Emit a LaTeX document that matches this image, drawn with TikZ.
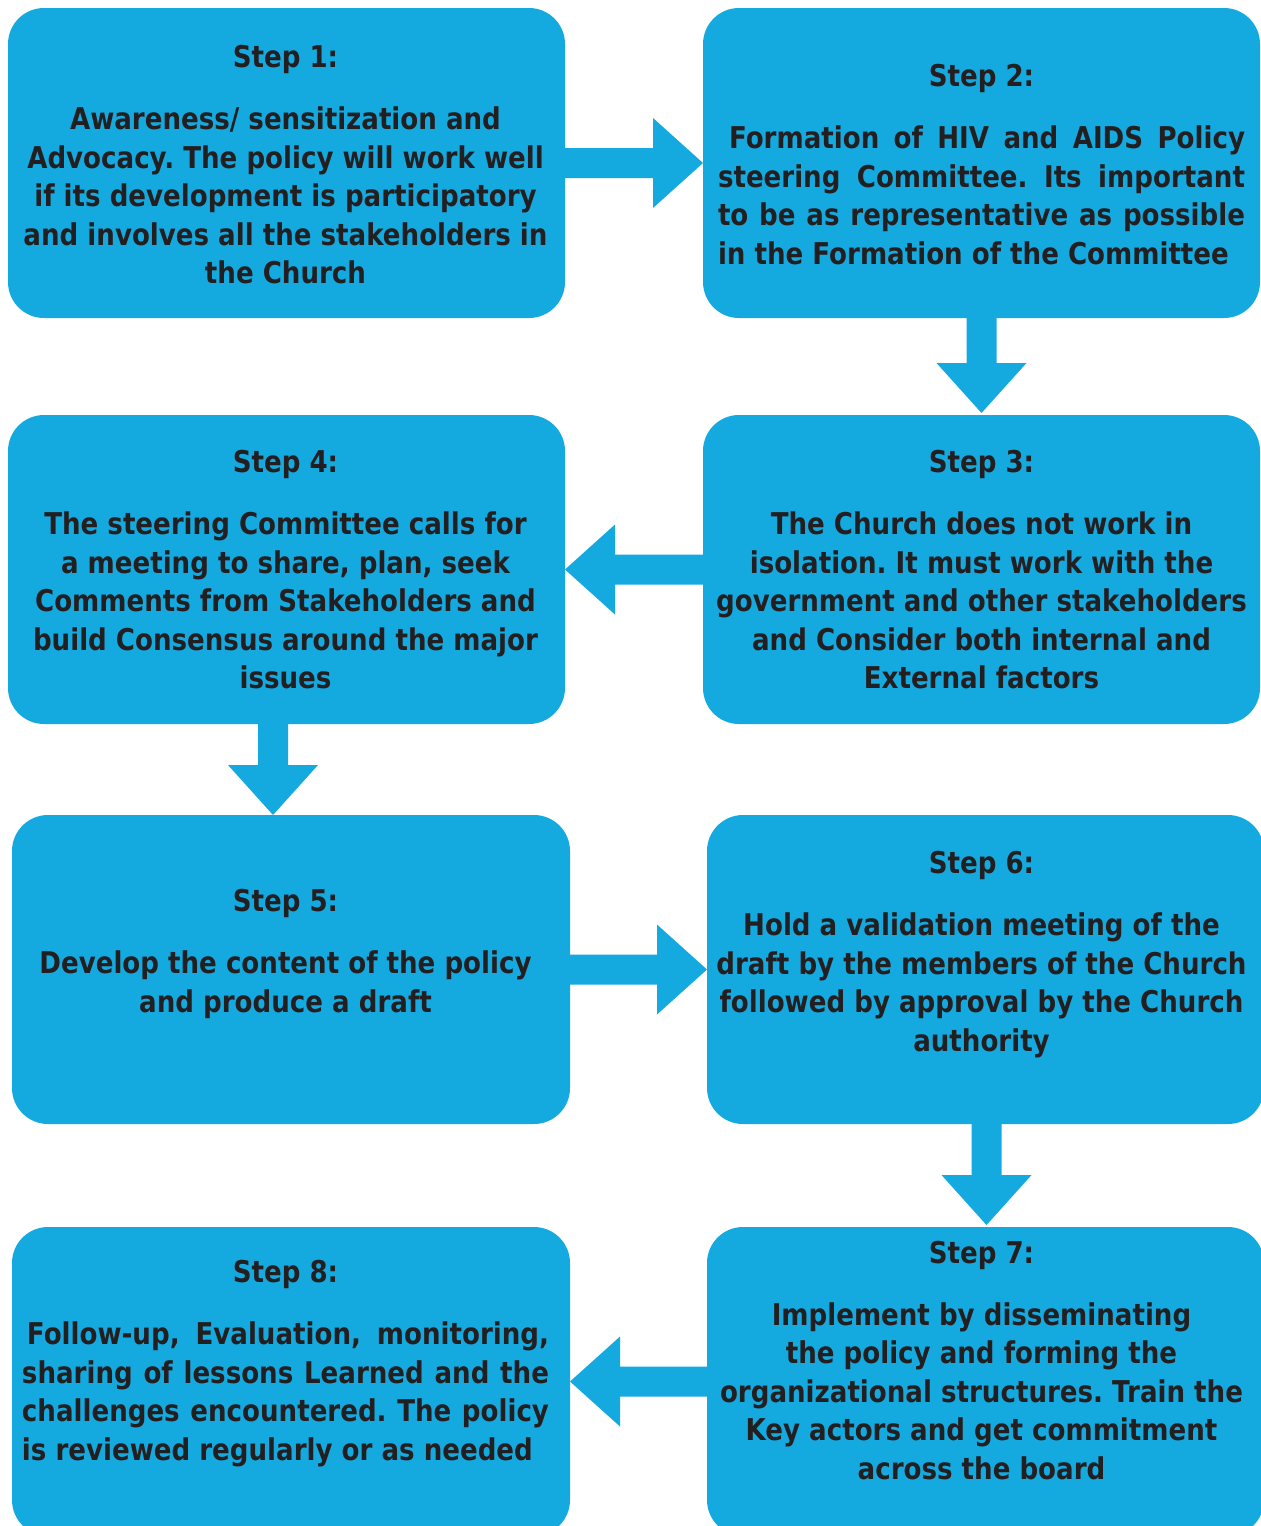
\documentclass[tikz,border=0pt]{standalone}
\usepackage{fontspec}
\setmainfont{DejaVu Sans}[FakeStretch=0.87]
\usetikzlibrary{calc}
\definecolor{boxblue}{HTML}{14AAE0}
\definecolor{txt}{HTML}{231F20}
\tikzset{
  stepbox/.style={fill=boxblue, rounded corners=18pt, minimum width=278.5pt,
    minimum height=155pt, inner sep=0pt, outer sep=0pt},
  steptext/.style={text=txt, font=\bfseries\fontsize{15}{19.25}\selectfont\frenchspacing,
    align=center, inner sep=0pt},
}
\newcommand\blkarrow[2]{%
  \coordinate (hb) at ($(#2)!25pt!(#1)$);
  \fill[boxblue] ($(#1)!7.5pt!90:(#2)$) -- ($(hb)!7.5pt!90:(#2)$)
    -- ($(hb)!22.5pt!90:(#2)$) -- (#2) -- ($(hb)!22.5pt!-90:(#2)$)
    -- ($(hb)!7.5pt!-90:(#2)$) -- ($(#1)!7.5pt!-90:(#2)$) -- cycle;
}
\newcommand\jl[1]{\makebox[263.5pt][s]{#1}}
\begin{document}
\begin{tikzpicture}[x=0.5pt,y=-0.5pt]
\useasboundingbox (0,0) rectangle (1261,1526);
\clip (0,0) rectangle (1261,1526);
\fill[white] (0,0) rectangle (1261,1526);

\node[stepbox] (b1) at (286.5,163) {};
\node[stepbox] (b2) at (981.5,163) {};
\node[stepbox, minimum height=154.5pt] (b3) at (981.5,569.5) {};
\node[stepbox, minimum height=154.5pt] (b4) at (286.5,569.5) {};
\node[stepbox, minimum width=279pt, minimum height=154.5pt] (b5) at (291,969.5) {};
\node[stepbox, minimum height=154.5pt] (b6) at (985.5,969.5) {};
\node[stepbox, minimum height=154.5pt] (b7) at (985.5,1381.5) {};
\node[stepbox, minimum width=279pt, minimum height=154.5pt] (b8) at (291,1381.5) {};

\blkarrow{b1.east}{b2.west}
\coordinate (a2s) at (b2.south);
\coordinate (a3n) at ($(b3.north)+(0,-2)$);
\blkarrow{a2s}{a3n}
\blkarrow{b3.west}{b4.east}
\coordinate (a4s) at ($(b4.south)+(-13.5,0)$);
\coordinate (a5n) at ($(b5.north)+(-18,0)$);
\blkarrow{a4s}{a5n}
\blkarrow{b5.east}{b6.west}
\coordinate (a6s) at ($(b6.south)+(1,0)$);
\coordinate (a7n) at ($(b7.north)+(1,-2)$);
\blkarrow{a6s}{a7n}
\blkarrow{b7.west}{b8.east}

\node[steptext] (t1) at (285.5,168) {\strut Step 1:\\[11.75pt]
  Awareness/ sensitization and\\
  Advocacy. The policy will work well\\
  if its development is participatory\\
  and involves all the stakeholders in\\
  the Church\strut};

\node[steptext] (t2) at (981.5,168) {\strut Step 2:\\[11.75pt]
  \jl{\hspace{5.5pt}Formation of HIV and AIDS Policy}\\
  \jl{steering Committee. Its important}\\
  \jl{to be as representative as possible}\\
  \makebox[263.5pt][l]{in the Formation of the Committee}\strut};

\node[steptext] (t3) at (981.5,573) {\strut Step 3:\\[11.75pt]
  The Church does not work in\\
  isolation. It must work with the\\
  government and other stakeholders\\
  and Consider both internal and\\
  External factors\strut};

\node[steptext] (t4) at (285.5,573) {\strut Step 4:\\[11.75pt]
  The steering Committee calls for\\
  a meeting to share, plan, seek\\
  Comments from Stakeholders and\\
  build Consensus around the major\\
  issues\strut};

\node[steptext] (t5) at (285.5,954.5) {\strut Step 5:\\[11.75pt]
  Develop the content of the policy\\
  and produce a draft\strut};

\node[steptext] (t6) at (981.5,955) {\strut Step 6:\\[11.75pt]
  Hold a validation meeting of the\\
  draft by the members of the Church\\
  followed by approval by the Church\\
  authority\strut};

\node[steptext] (t7) at (981.5,1363.5) {\strut Step 7:\\[11.75pt]
  Implement by disseminating\\
  the policy and forming the\\
  organizational structures. Train the\\
  Key actors and get commitment\\
  across the board\strut};

\node[steptext] (t8) at (285.5,1364) {\strut Step 8:\\[11.75pt]
  \jl{\hspace{2.5pt}Follow-up, Evaluation, monitoring,}\\
  \jl{sharing of lessons Learned and the}\\
  \jl{challenges encountered. The policy}\\
  \makebox[263.5pt][l]{is reviewed regularly or as needed}\strut};
\end{tikzpicture}
\end{document}
